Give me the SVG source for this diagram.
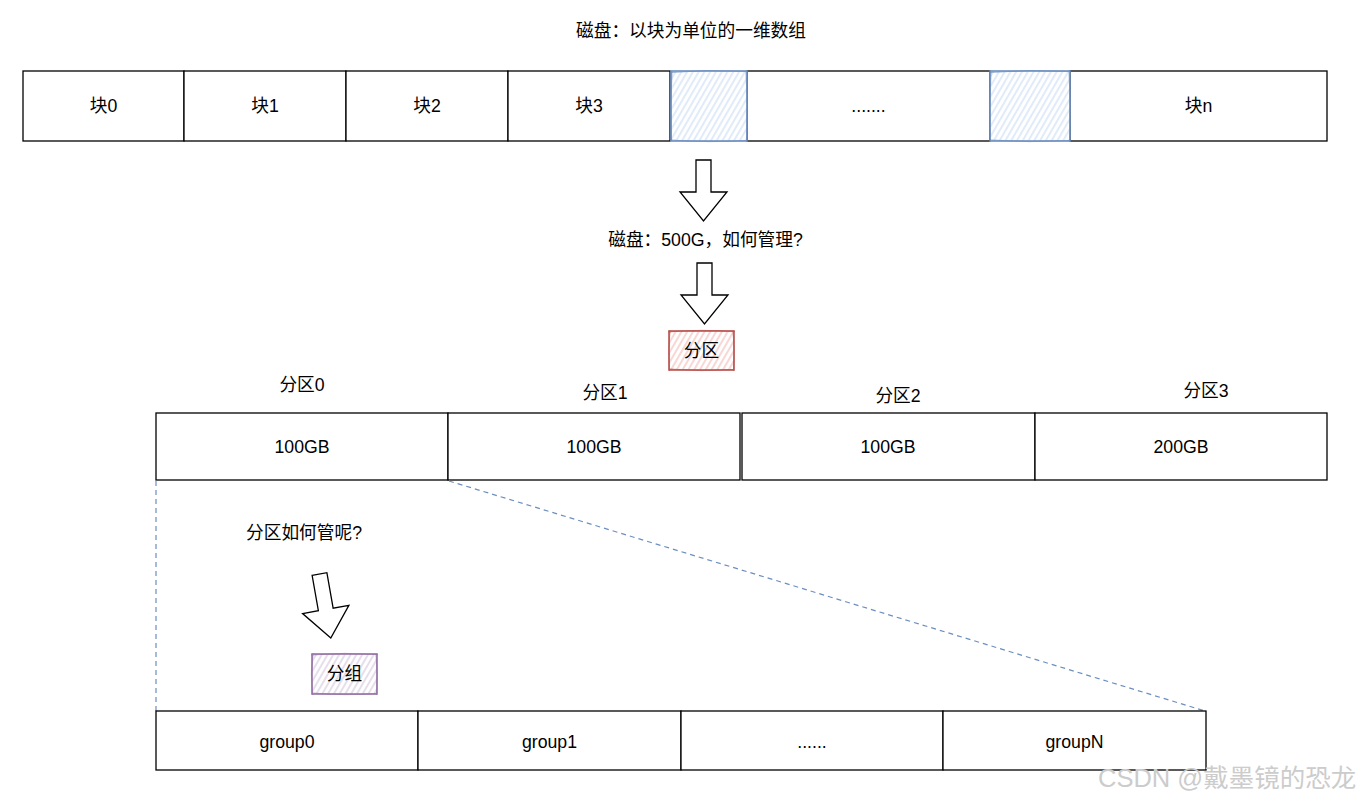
<svg xmlns="http://www.w3.org/2000/svg" width="1366" height="807" viewBox="0 0 1366 807">
<style>
text{font-family:"Liberation Sans","Noto Sans CJK SC",Arial,sans-serif;font-size:17.7px;fill:#000;text-anchor:middle;dominant-baseline:central}
.cell{fill:#fff;stroke:#000;stroke-width:1.3}
.blue{fill:url(#hb);stroke:#6c8ebf;stroke-width:1.6}
.red{fill:url(#hr);stroke:#b85450;stroke-width:1.6}
.pur{fill:url(#hp);stroke:#9673a6;stroke-width:1.6}
.sk{fill:none;stroke-width:0.9;opacity:0.8}
.arr{fill:#fff;stroke:#000;stroke-width:1.3;stroke-linejoin:miter}
.dash{fill:none;stroke:#6c8ebf;stroke-width:1.2;stroke-dasharray:5 4}
.wm{font-size:25.5px;fill:#cccccc;text-anchor:start}
</style>
<defs>
<pattern id="hb" width="5" height="5" patternUnits="userSpaceOnUse" patternTransform="rotate(30)"><rect width="5" height="5" fill="#fff"/><line x1="1" y1="0" x2="1" y2="5" stroke="#d4e3f8" stroke-width="1.4"/></pattern>
<pattern id="hr" width="5" height="5" patternUnits="userSpaceOnUse" patternTransform="rotate(30)"><rect width="5" height="5" fill="#fff"/><line x1="1" y1="0" x2="1" y2="5" stroke="#f5c6c4" stroke-width="1.4"/></pattern>
<pattern id="hp" width="5" height="5" patternUnits="userSpaceOnUse" patternTransform="rotate(30)"><rect width="5" height="5" fill="#fff"/><line x1="1" y1="0" x2="1" y2="5" stroke="#ddd0e4" stroke-width="1.4"/></pattern>
</defs>
<rect width="1366" height="807" fill="#fff"/>

<g id="title"><text x="691" y="31">磁盘：以块为单位的一维数组</text></g>

<g id="disk">
<g id="b0"><rect class="cell" x="23" y="71" width="161" height="70"/><text x="103.5" y="106">块0</text></g>
<g id="b1"><rect class="cell" x="184" y="71" width="162" height="70"/><text x="265" y="106">块1</text></g>
<g id="b2"><rect class="cell" x="346" y="71" width="162" height="70"/><text x="427" y="106">块2</text></g>
<g id="b3"><rect class="cell" x="508" y="71" width="162" height="70"/><text x="589" y="106">块3</text></g>
<g id="bdots"><rect class="cell" x="747" y="71" width="243" height="70"/><text x="868.5" y="106">.......</text></g>
<g id="bn"><rect class="cell" x="1070" y="71" width="257" height="70"/><text x="1198.5" y="106">块n</text></g>
<g id="bh1"><rect class="blue" x="671" y="71" width="76" height="70"/><path class="sk" stroke="#6c8ebf" d="M670,72.5 Q708,69 747,71.5 M671,140 Q710,143 746,140.5 M672,71 Q670,106 671.5,141 M746,70.5 Q748,105 746.5,141"/></g>
<g id="bh2"><rect class="blue" x="990" y="71" width="80" height="70"/><path class="sk" stroke="#6c8ebf" d="M989,72.5 Q1030,69 1070,71.5 M990,140 Q1030,143 1069,140.5 M991,71 Q989,106 990.5,141 M1069,70.5 Q1071,105 1069.5,141"/></g>
</g>

<g id="arrow1"><path class="arr" d="M696,160 L711,160 L711,192 L727,192 L703.5,221 L680,192 L696,192 Z"/></g>
<g id="q1"><text x="705.5" y="240">磁盘：500G，如何管理?</text></g>
<g id="arrow2"><path class="arr" d="M697,263 L712,263 L712,295 L728,295 L704.5,324 L681,295 L697,295 Z"/></g>
<g id="fenqu"><rect class="red" x="669" y="331" width="65" height="39"/><path class="sk" stroke="#b85450" d="M668,332 Q700,329 735,331.5 M669,369 Q702,372 734,369.5 M670,330 Q668,350 669.5,371 M733,330.5 Q735,350 733.5,371"/><text x="701.5" y="350.5">分区</text></g>

<g id="plabels">
<text x="302" y="385">分区0</text>
<text x="605" y="393">分区1</text>
<text x="898" y="396">分区2</text>
<text x="1206" y="391">分区3</text>
</g>
<g id="partitions">
<g id="p0"><rect class="cell" x="156" y="413" width="292" height="67"/><text x="302" y="446.5">100GB</text></g>
<g id="p1"><rect class="cell" x="448" y="413" width="292" height="67"/><text x="594" y="446.5">100GB</text></g>
<g id="p2"><rect class="cell" x="742" y="413" width="293" height="67"/><text x="888" y="446.5">100GB</text></g>
<g id="p3"><rect class="cell" x="1035" y="413" width="292" height="67"/><text x="1181" y="446.5">200GB</text></g>
</g>

<g id="connectors">
<line class="dash" x1="156" y1="481" x2="156" y2="711"/>
<line class="dash" x1="449" y1="481" x2="1205" y2="711"/>
</g>

<g id="q2"><text x="304" y="533">分区如何管呢?</text></g>
<g id="arrow3"><path class="arr" transform="translate(319.5,574) rotate(-10)" d="M-7.5,0 L7.5,0 L7.5,36 L23.5,36 L0,65 L-23.5,36 L-7.5,36 Z"/></g>
<g id="fenzu"><rect class="pur" x="312" y="654" width="65" height="40"/><path class="sk" stroke="#9673a6" d="M311,655 Q345,652 378,654.5 M312,693 Q346,696 377,693.5 M313,653 Q310,674 312.5,695 M376,653.5 Q378,674 376.5,695"/><text x="344.5" y="674">分组</text></g>

<g id="groups">
<g id="g0"><rect class="cell" x="156" y="711" width="262" height="59"/><text x="287" y="741.5">group0</text></g>
<g id="g1"><rect class="cell" x="418" y="711" width="263" height="59"/><text x="549.5" y="741.5">group1</text></g>
<g id="g2"><rect class="cell" x="681" y="711" width="262" height="59"/><text x="812" y="741.5">......</text></g>
<g id="gN"><rect class="cell" x="943" y="711" width="263" height="59"/><text x="1074.5" y="741.5">groupN</text></g>
</g>

<text class="wm" x="1098" y="778">CSDN @戴墨镜的恐龙</text>
</svg>
